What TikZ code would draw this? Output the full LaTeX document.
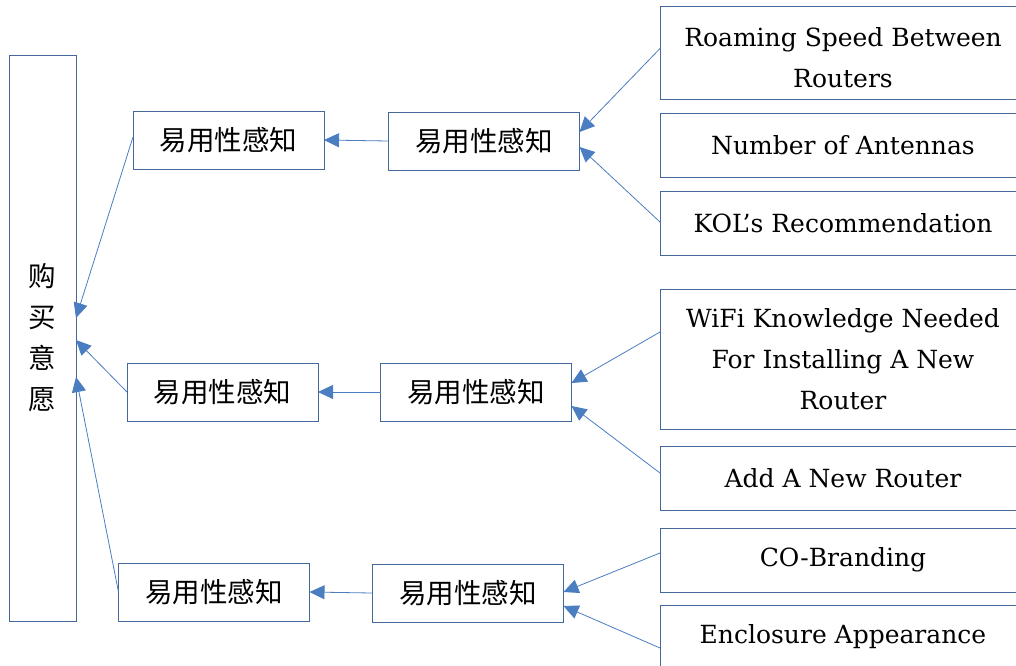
\documentclass[tikz,border=0pt]{standalone}
\usepackage{fontspec}
\setmainfont{DejaVu Serif}
\newfontfamily\cjk{Noto Sans CJK SC}
\usetikzlibrary{arrows.meta}
\definecolor{boxline}{RGB}{68,104,156}
\definecolor{arrline}{RGB}{74,126,193}
\tikzset{
  x=1pt, y=-1pt,
  box/.style={draw=boxline, line width=0.9pt, fill=white, inner sep=0pt, outer sep=0pt, align=center},
  cnbox/.style={box, minimum width=191pt, minimum height=58pt, font=\cjk\fontsize{27.5}{41}\selectfont},
  enfont/.style={font=\fontsize{25}{41}\selectfont, align=center},
  enbox/.style={box, enfont, minimum width=366pt},
  link/.style={draw=arrline, line width=0.8pt, -{Triangle[length=15pt,width=14pt]}}
}
\begin{document}
\begin{tikzpicture}
\clip (0,0) rectangle (1016,665);
\fill[white] (0,0) rectangle (1016,665);

% purchase intention column
\node[box, minimum width=67pt, minimum height=566pt, font=\cjk\fontsize{27.5}{41}\selectfont] (L) at (42.5,338) {购\\买\\意\\愿};

% first-level factors
\node[cnbox] (A1) at (228.5,140) {易用性感知};
\node[cnbox] (A2) at (222.5,392) {易用性感知};
\node[cnbox] (A3) at (214,592) {易用性感知};

% second-level factors
\node[cnbox] (B1) at (484,141) {易用性感知};
\node[cnbox] (B2) at (476,392) {易用性感知};
\node[cnbox] (B3) at (468,593) {易用性感知};

% observed items
\node[enbox, minimum height=93pt] (R1) at (843,52.5) {};
\node[enfont] (R1text) at (843,58) {Roaming Speed Between\\Routers};
\node[enbox, minimum height=64pt] (R2) at (843,145) {Number of Antennas};
\node[enbox, minimum height=64pt] (R3) at (843,223) {KOL’s Recommendation};
\node[enbox, minimum height=140pt] (R4) at (843,359) {WiFi Knowledge Needed\\For Installing A New\\Router};
\node[enbox, minimum height=64pt] (R5) at (843,478) {Add A New Router};
\node[enbox, minimum height=64pt] (R6) at (843,560) {CO-Branding};
\node[enbox, minimum height=64pt] (R7) at (843,637) {Enclosure Appearance};

% connectors
\draw[link] ([yshift=3pt]A1.west) -- ([yshift=20pt]L.east);
\draw[link] (A2.west) -- ([yshift=-2pt]L.east);
\draw[link] (A3.west) -- ([yshift=-39pt]L.east);

\draw[link] (B1.west) -- (A1.east);
\draw[link] (B2.west) -- (A2.east);
\draw[link] (B3.west) -- (A3.east);

\draw[link] ([yshift=4pt]R1.west) -- ([yshift=9pt]B1.east);
\draw[link] ([yshift=1pt]R3.west) -- ([yshift=-6pt]B1.east);
\draw[link] ([yshift=27pt]R4.west) -- ([yshift=9pt]B2.east);
\draw[link] ([yshift=5pt]R5.west) -- ([yshift=-14pt]B2.east);
\draw[link] ([yshift=7pt]R6.west) -- ([yshift=1pt]B3.east);
\draw[link] ([yshift=-11pt]R7.west) -- ([yshift=-13pt]B3.east);
\end{tikzpicture}
\end{document}
